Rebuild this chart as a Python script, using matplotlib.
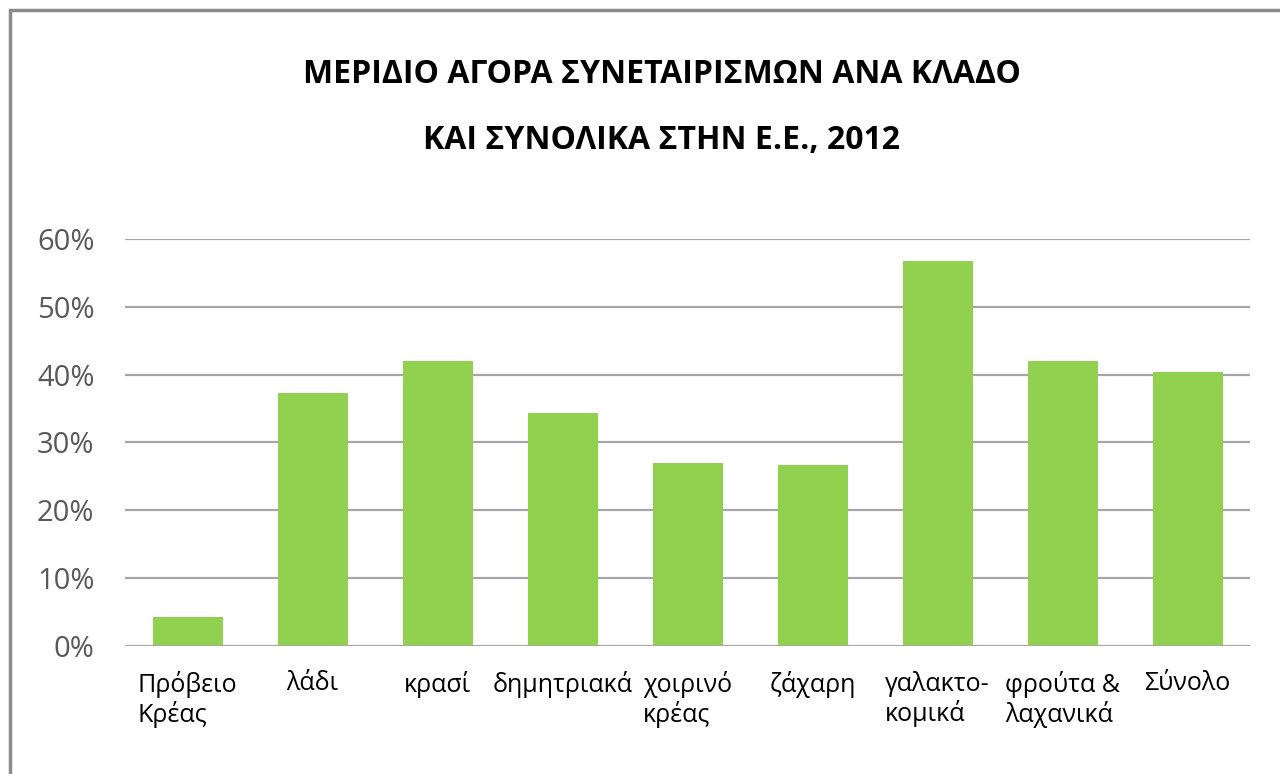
import matplotlib.pyplot as plt
from matplotlib.patches import Rectangle
from matplotlib.ticker import PercentFormatter

plt.rcParams['font.family'] = ['Open Sans', 'DejaVu Sans']

# data
categories = ['Πρόβειο\nΚρέας', 'λάδι', 'κρασί', 'δημητριακά', 'χοιρινό\nκρέας',
              'ζάχαρη', 'γαλακτο-\nκομικά', 'φρούτα &\nλαχανικά', 'Σύνολο']
shares = [0.043, 0.373, 0.420, 0.344, 0.270, 0.267, 0.568, 0.420, 0.404]
yticks = [0, 0.1, 0.2, 0.3, 0.4, 0.5, 0.6]

fig = plt.figure(figsize=(12.8, 7.74), dpi=100)
ax = fig.add_axes([0.0977, 0.1654, 0.8789, 0.5258])

x = range(len(categories))
ax.bar(x, shares, width=0.56, color='#92D050', zorder=3)

ax.set_xlim(-0.5, len(categories) - 0.5)
ax.set_ylim(0, 0.6)
ax.set_yticks(yticks)
ax.yaxis.set_major_formatter(PercentFormatter(1.0, decimals=0))
ax.grid(axis='y', color='#A6A6A6', linewidth=1.6, zorder=0)
ax.axhline(0, color='#A6A6A6', linewidth=2, zorder=4)

ax.set_xticks(list(x))
ax.set_xticklabels(categories, fontsize=18, multialignment='left', va='top',
                   linespacing=1.15)
ax.tick_params(axis='x', length=0, pad=18, colors='black')
ax.tick_params(axis='y', length=0, pad=22, labelsize=21, colors='#595959')
for s in ax.spines.values():
    s.set_visible(False)

# title is centred on the full (cropped) chart, a bit right of the image centre
fig.text(0.517, 0.8928, 'ΜΕΡΙΔΙΟ ΑΓΟΡΑ ΣΥΝΕΤΑΙΡΙΣΜΩΝ ΑΝΑ ΚΛΑΔΟ', ha='center', va='baseline',
         fontsize=23, fontweight='bold')
fig.text(0.517, 0.8075, 'ΚΑΙ ΣΥΝΟΛΙΚΑ ΣΤΗΝ Ε.Ε., 2012', ha='center', va='baseline',
         fontsize=23, fontweight='bold')

# outer chart border, cut off on right and bottom like the screenshot
fig.patches.append(Rectangle((10 / 1280, -0.05), 1.1, 1 - 10 / 774 + 0.05,
                             transform=fig.transFigure, fill=False,
                             edgecolor='#8C8C8C', linewidth=2.5))

fig.savefig('out.png', dpi=100)
